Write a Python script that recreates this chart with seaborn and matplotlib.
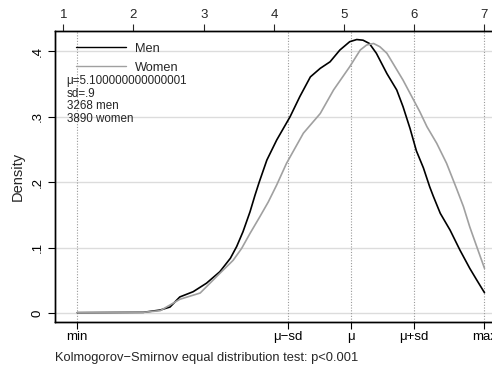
import matplotlib
matplotlib.use("Agg")
import matplotlib.pyplot as plt
import numpy as np
import pandas as pd
import seaborn as sns

# Summary statistics shown on the chart
mu = 5.100000000000001
sd = 0.9
x_min = 1.2
x_max = 7.0
n_men = 3268
n_women = 3890

# Kernel density of the scores, by group
men_x = [1.2, 2.14, 2.38, 2.52, 2.66, 2.85, 3.04, 3.23, 3.38, 3.47, 3.56, 3.66,
         3.73, 3.79, 3.90, 4.04, 4.23, 4.37, 4.52, 4.66, 4.80, 4.94, 5.08, 5.18,
         5.27, 5.36, 5.46, 5.61, 5.75, 5.84, 5.94, 6.03, 6.13, 6.22, 6.27, 6.37,
         6.51, 6.65, 6.79, 6.89, 7.0]
men_y = [0.001, 0.0015, 0.005, 0.0096, 0.025, 0.033, 0.046, 0.0635, 0.084, 0.102,
         0.1246, 0.155, 0.180, 0.2000, 0.234, 0.2646, 0.300, 0.331, 0.361, 0.374,
         0.384, 0.402, 0.4147, 0.418, 0.417, 0.412, 0.397, 0.366, 0.341, 0.3154,
         0.282, 0.248, 0.222, 0.193, 0.179, 0.1527, 0.127, 0.0966, 0.0687, 0.0508,
         0.0315]

women_x = [1.2, 2.14, 2.38, 2.66, 2.95, 3.23, 3.42, 3.54, 3.66, 3.80, 3.92, 4.04,
           4.18, 4.42, 4.66, 4.85, 5.08, 5.23, 5.32, 5.42, 5.51, 5.61, 5.70, 5.84,
           5.99, 6.08, 6.18, 6.32, 6.46, 6.60, 6.70, 6.79, 6.89, 7.0]
women_y = [0.001, 0.0015, 0.004, 0.0214, 0.031, 0.061, 0.081, 0.099, 0.122, 0.1475,
           0.170, 0.196, 0.229, 0.275, 0.305, 0.341, 0.3765, 0.402, 0.4096, 0.412,
           0.407, 0.397, 0.381, 0.356, 0.3257, 0.3075, 0.285, 0.2595, 0.229, 0.191,
           0.163, 0.132, 0.1017, 0.0687]

top_ticks = [1, 2, 3, 4, 5, 6, 7]
y_ticks = [0, 0.1, 0.2, 0.3, 0.4]
y_ticklabels = ["0", ".1", ".2", ".3", ".4"]
bottom_labels = ["min", "\u03bc\u2212sd", "\u03bc", "\u03bc+sd", "max"]

df = pd.DataFrame({
    "score": men_x + women_x,
    "density": men_y + women_y,
    "group": ["Men"] * len(men_x) + ["Women"] * len(women_x),
})

sns.set_style("ticks")
plt.rcParams["font.family"] = ["Liberation Sans", "DejaVu Sans"]

fig = plt.figure(figsize=(4.92, 3.72), dpi=100)
ax = fig.add_axes([55 / 492, 50.3 / 372, 437 / 492, 291 / 372])

# reference grid
for yv in y_ticks:
    ax.axhline(yv, color="#dcdcdc", lw=1.0, zorder=0)
bottom_pos = [x_min, mu - sd, mu, mu + sd, x_max]
for xv in bottom_pos:
    ax.axvline(xv, color="#9a9a9a", lw=0.8, ls=(0, (1, 1.5)), zorder=0)

sns.lineplot(data=df, x="score", y="density", hue="group",
             palette={"Men": "black", "Women": "#a0a0a0"},
             linewidth=1.2, ax=ax, sort=False, estimator=None)

ax.set_xlim(0.882, 7.107)
ax.set_ylim(-0.0128, 0.4315)

ax.set_yticks(y_ticks)
ax.set_yticklabels(y_ticklabels, rotation=90, va="center", fontsize=9.5)
ax.set_xticks(bottom_pos)
ax.set_xticklabels(bottom_labels, fontsize=9.5)
ax.tick_params(axis="both", direction="out", length=5, width=0.8, colors="black", pad=3)
ax.tick_params(axis="x", pad=2)
ax.set_ylabel("Density", fontsize=10.5, labelpad=5)
ax.set_xlabel("")

top = ax.twiny()
top.set_xlim(ax.get_xlim())
top.set_xticks(top_ticks)
top.set_xticklabels([str(t) for t in top_ticks], fontsize=9.5)
top.tick_params(axis="x", direction="out", length=5, width=0.8, pad=2)

for a in (ax, top):
    a.spines["right"].set_visible(False)
    for side in ("left", "bottom", "top"):
        a.spines[side].set_color("black")
        a.spines[side].set_linewidth(1.0)

leg = ax.legend(title=None, frameon=False, loc="upper left",
                bbox_to_anchor=(0.043, 0.968), fontsize=9.2,
                handlelength=3.9, handletextpad=0.7, labelspacing=0.56,
                borderaxespad=0, borderpad=0.2)
for line in leg.get_lines():
    line.set_linewidth(1.0)

ax.text(0.0268, 0.847,
        f"\u03bc={mu}\nsd=.9\n{n_men} men\n{n_women} women",
        transform=ax.transAxes, fontsize=8.4, va="top", ha="left", linespacing=1.05)

fig.text(55 / 492, 1 - 358 / 372,
         "Kolmogorov\u2212Smirnov equal distribution test: p<0.001",
         fontsize=9.3, ha="left", va="center")

fig.savefig("out.png", dpi=100)
